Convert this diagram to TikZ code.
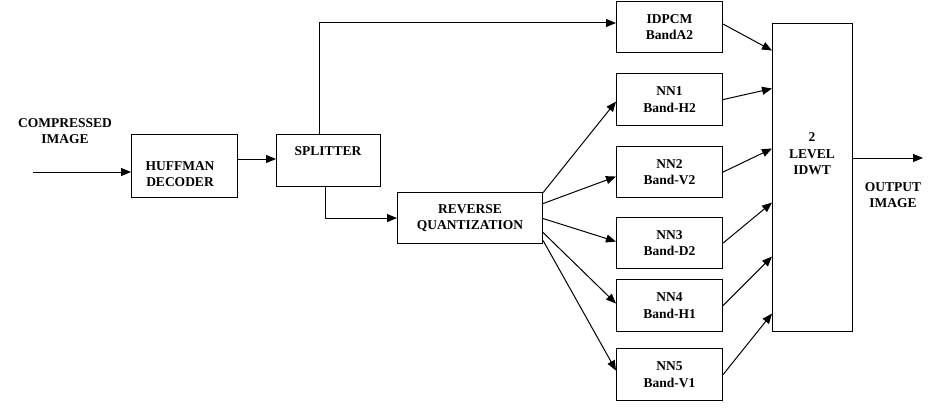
\documentclass[tikz,border=0pt]{standalone}
\usepackage{fontspec}
\setmainfont{Liberation Serif}
\usetikzlibrary{arrows.meta,calc}
\newcommand\diagfont{\rmfamily\fontsize{13.5}{16.5}\selectfont\bfseries}
\begin{document}
\begin{tikzpicture}[x=1pt,y=-1pt,
  box/.style={draw, line width=1.1pt, anchor=north west, inner sep=0pt, align=center, font=\diagfont},
  lbl/.style={align=center, inner sep=0pt, font=\diagfont},
  arr/.style={draw, line width=1pt, -{Triangle[length=10pt,width=8pt]}}]
\useasboundingbox (0,0) rectangle (933,412);
% boxes
\node (hd)   [box, minimum width=106pt, minimum height=63pt] at (131,134) {};
\node (spl)  [box, minimum width=104pt, minimum height=52pt] at (276,134) {};
\node (rq)   [box, minimum width=145pt, minimum height=51pt] at (397,192) {REVERSE\\QUANTIZATION};
\node (idp)  [box, minimum width=106pt, minimum height=51pt] at (616,1)   {IDPCM\\BandA2};
\node (nn1)  [box, minimum width=106pt, minimum height=52pt] at (616,73)  {NN1\\Band-H2};
\node (nn2)  [box, minimum width=106pt, minimum height=51pt] at (616,146) {NN2\\Band-V2};
\node (nn3)  [box, minimum width=106pt, minimum height=51pt] at (616,217) {NN3\\Band-D2};
\node (nn4)  [box, minimum width=106pt, minimum height=52pt] at (616,279) {NN4\\Band-H1};
\node (nn5)  [box, minimum width=106pt, minimum height=52pt] at (616,348) {NN5\\Band-V1};
\node (idwt) [box, minimum width=80pt, minimum height=308pt] at (772,23) {};
% texts
\node (hdt)   [lbl] at (180,174) {HUFFMAN\\DECODER};
\node (splt)  [lbl] at (328,151) {SPLITTER};
\node (idwtt) [lbl] at (812,154) {2\\LEVEL\\IDWT};
\node (cimg)  [lbl] at (65,131) {COMPRESSED\\IMAGE};
\node (oimg)  [lbl] at (893,195) {OUTPUT\\IMAGE};
% coordinates
\coordinate (inp) at (33,172);
\coordinate (y159) at (0,159);
\coordinate (a1) at (319,23);
\coordinate (a2) at (325,217);
\coordinate (outp) at (923,158);
% connectors
\draw[arr] (inp) -- (hd.west |- inp);
\draw[arr] (hd.east |- y159) -- (spl.west |- y159);
\draw[arr] (spl.north -| a1) |- (idp.west |- a1);
\draw[arr] (spl.south -| a2) |- (rq.west);
\draw[arr] ($(rq.east)+(0,-25.5)$) -- ($(nn1.west)+(0,2)$);
\draw[arr] ($(rq.east)+(0,-14.5)$) -- ($(nn2.west)+(0,4.5)$);
\draw[arr] ($(rq.east)+(0,0.5)$)   -- ($(nn3.west)+(0,-1.5)$);
\draw[arr] ($(rq.east)+(0,14.5)$)  -- ($(nn4.west)+(0,-2)$);
\draw[arr] ($(rq.east)+(0,22.5)$)  -- ($(nn5.west)+(0,-4)$);
\draw[arr] ($(idp.east)+(0,-3)$) -- ($(idwt.west)+(0,-127)$);
\draw[arr] (nn1.east) -- ($(idwt.west)+(0,-89)$);
\draw[arr] (nn2.east) -- ($(idwt.west)+(0,-29)$);
\draw[arr] (nn3.east) -- ($(idwt.west)+(0,25)$);
\draw[arr] (nn4.east) -- ($(idwt.west)+(0,79)$);
\draw[arr] (nn5.east) -- ($(idwt.west)+(0,136)$);
\draw[arr] (idwt.east |- outp) -- (outp);
\end{tikzpicture}
\end{document}
